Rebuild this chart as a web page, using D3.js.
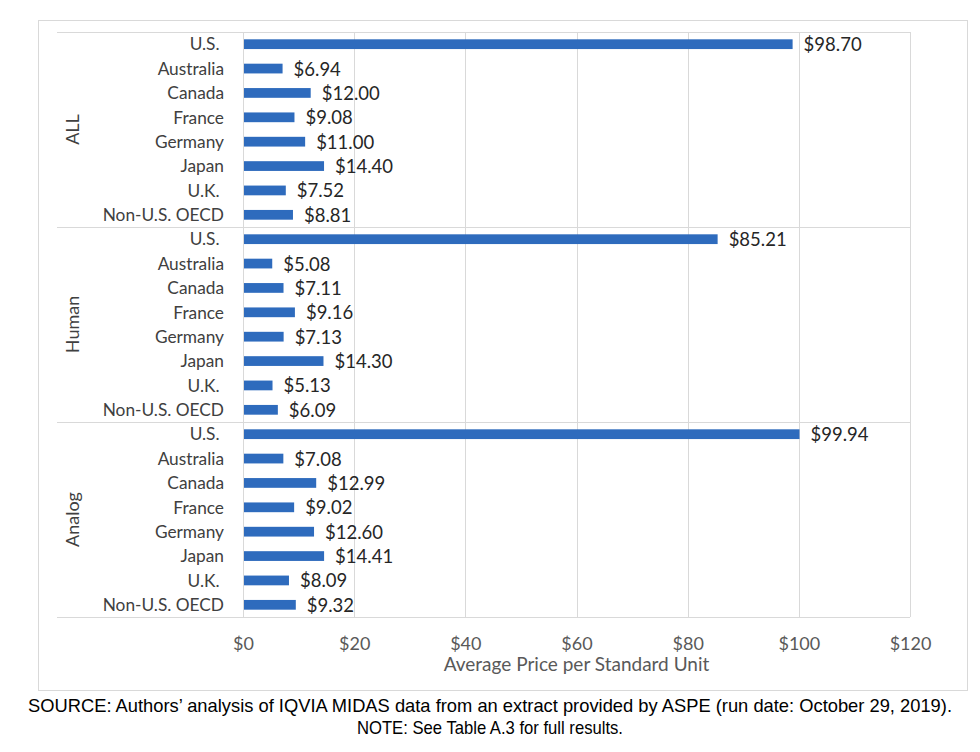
<!DOCTYPE html>
<html>
<head>
<meta charset="utf-8">
<script src="https://cdn.jsdelivr.net/npm/d3@7"></script>
<style>
  body { margin: 0; background: #fff; }
  svg text { font-family: Lato, "Open Sans", sans-serif; }
  .pre { white-space: pre; }
</style>
</head>
<body>
<svg id="chart" width="980" height="752"></svg>
<script>
// data
const groups = ["ALL", "Human", "Analog"];
const countries = ["U.S. ", "Australia", "Canada", "France", "Germany", "Japan", "U.K. ", "Non-U.S. OECD"];
const allValues = [98.70, 6.94, 12.00, 9.08, 11.00, 14.40, 7.52, 8.81];
const humanValues = [85.21, 5.08, 7.11, 9.16, 7.13, 14.30, 5.13, 6.09];
const analogValues = [99.94, 7.08, 12.99, 9.02, 12.60, 14.41, 8.09, 9.32];
const xTicks = [0, 20, 40, 60, 80, 100, 120];
const sourceLines = [
  "SOURCE: Authors\u2019 analysis of IQVIA MIDAS data from an extract provided by ASPE (run date: October 29, 2019).",
  "NOTE: See Table A.3 for full results."
];
const sourceWidths = [924, 266];

const seriesByGroup = [allValues, humanValues, analogValues];
const rows = [];
groups.forEach((g, gi) => {
  countries.forEach((c, ci) => {
    rows.push({ group: g, country: c, value: seriesByGroup[gi][ci], key: g + "|" + ci });
  });
});

const svg = d3.select("#chart");
const margin = { top: 32, left: 243, right: 70, bottom: 135 };
const width = 980 - margin.left - margin.right;
const height = 752 - margin.top - margin.bottom;

// outer frame
svg.append("rect")
  .attr("x", 38.5).attr("y", 20.5)
  .attr("width", 929).attr("height", 670)
  .attr("fill", "none")
  .attr("stroke", "#d9d9d9");

const g = svg.append("g").attr("transform", `translate(${margin.left},${margin.top})`);

const x = d3.scaleLinear().domain([0, 120]).range([0, width]);
const y = d3.scaleBand().domain(rows.map(d => d.key)).range([0, height]).paddingInner(0.6).paddingOuter(0.3);
const gy = d3.scaleBand().domain(groups).range([0, height]);

// vertical gridlines
g.append("g")
  .selectAll("line")
  .data(xTicks)
  .join("line")
  .attr("x1", d => Math.round(x(d)) + 0.5)
  .attr("x2", d => Math.round(x(d)) + 0.5)
  .attr("y1", 0)
  .attr("y2", height)
  .attr("stroke", "#d9d9d9");

// group separators
const sepY = groups.map(d => gy(d)).concat([height]);
g.append("g")
  .selectAll("line")
  .data(sepY)
  .join("line")
  .attr("x1", 57 - margin.left)
  .attr("x2", width)
  .attr("y1", d => Math.round(d) + 0.5)
  .attr("y2", d => Math.round(d) + 0.5)
  .attr("stroke", "#d9d9d9");

// bars
g.append("g")
  .selectAll("rect")
  .data(rows)
  .join("rect")
  .attr("x", x(0) + 1)
  .attr("y", d => y(d.key))
  .attr("width", d => x(d.value) - x(0))
  .attr("height", y.bandwidth())
  .attr("fill", "#2e6bbd");

// value labels
g.append("g")
  .selectAll("text")
  .data(rows)
  .join("text")
  .attr("x", d => x(d.value) + 12)
  .attr("y", d => y(d.key) + y.bandwidth() / 2)
  .attr("dy", "0.38em")
  .attr("font-size", 18.5)
  .attr("fill", "#262626")
  .text(d => "$" + d.value.toFixed(2));

// category labels
g.append("g")
  .selectAll("text")
  .data(rows)
  .join("text")
  .attr("class", "pre")
  .attr("x", -19)
  .attr("y", d => y(d.key) + y.bandwidth() / 2)
  .attr("dy", "0.36em")
  .attr("text-anchor", "end")
  .attr("font-size", 17.3)
  .attr("fill", "#404040")
  .text(d => d.country);

// group labels
g.append("g")
  .selectAll("text")
  .data(groups)
  .join("text")
  .attr("transform", d => `translate(${73 - margin.left},${gy(d) + gy.bandwidth() / 2}) rotate(-90)`)
  .attr("dy", "0.36em")
  .attr("text-anchor", "middle")
  .attr("font-size", 18)
  .attr("fill", "#404040")
  .text(d => d);

// x axis
const xAxis = g.append("g")
  .attr("transform", `translate(0,${height})`)
  .call(d3.axisBottom(x).tickValues(xTicks).tickFormat(d => "$" + d).tickSize(0).tickPadding(20));
xAxis.select(".domain").remove();
xAxis.selectAll("text")
  .attr("font-size", 18)
  .attr("font-family", "Lato, sans-serif")
  .attr("fill", "#595959");

g.append("text")
  .attr("x", width / 2)
  .attr("y", height + 54)
  .attr("text-anchor", "middle")
  .attr("font-size", 19)
  .attr("fill", "#595959")
  .text("Average Price per Standard Unit");

// source notes
svg.append("g")
  .selectAll("text")
  .data(sourceLines)
  .join("text")
  .attr("x", 490)
  .attr("y", (d, i) => 712 + i * 22)
  .attr("text-anchor", "middle")
  .attr("font-size", 18.5)
  .attr("textLength", (d, i) => sourceWidths[i])
  .attr("lengthAdjust", "spacingAndGlyphs")
  .attr("fill", "#000")
  .style("font-family", "'Liberation Sans Narrow', 'Liberation Sans', sans-serif")
  .text(d => d);
</script>
</body>
</html>
